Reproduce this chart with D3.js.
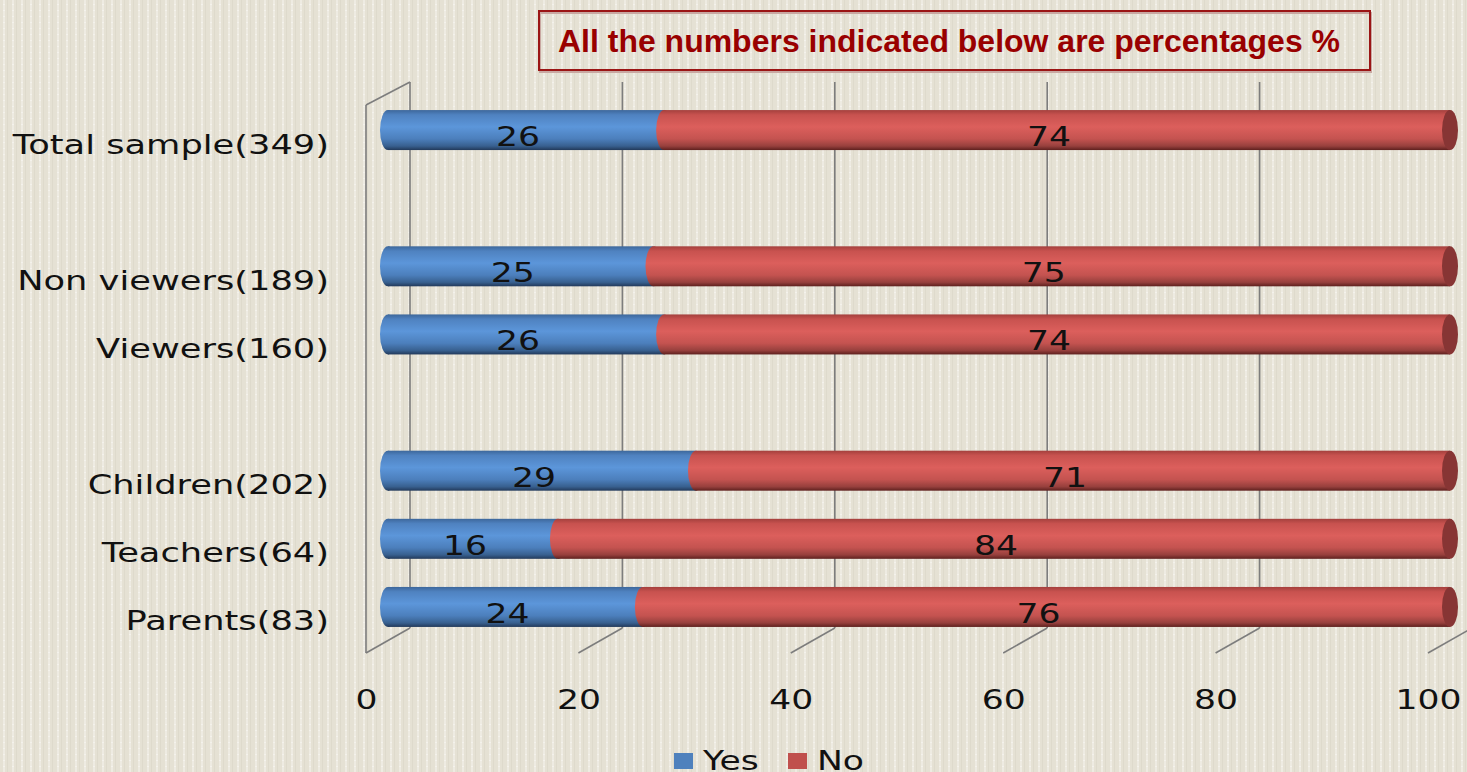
<!DOCTYPE html>
<html><head><meta charset="utf-8">
<script src="https://cdn.jsdelivr.net/npm/d3@7/dist/d3.min.js"></script>
<style>
html,body{margin:0;padding:0;background:#e6e2d6;overflow:hidden;}
svg{display:block;}
</style></head>
<body>
<svg id="chart" width="1467" height="772"></svg>
<script>
// ---- data ----
const categories = ["Total sample(349)", "", "Non viewers(189)", "Viewers(160)", " ", "Children(202)", "Teachers(64)", "Parents(83)"];
const yesValues = [26, null, 25, 26, null, 29, 16, 24];
const noValues  = [74, null, 75, 74, null, 71, 84, 76];
const xTicks = [0, 20, 40, 60, 80, 100];
const seriesNames = ["Yes", "No"];
const titleText = "All the numbers indicated below are percentages %";

const W = 1467, H = 772;
const svg = d3.select("#chart");
const STRETCH = 1.33;
const wideFont = "'DejaVu Sans', sans-serif";

// background texture
const defs = svg.append("defs");
const pat = defs.append("pattern").attr("id","tex").attr("width",9).attr("height",6).attr("patternUnits","userSpaceOnUse");
pat.append("rect").attr("width",9).attr("height",6).attr("fill","#e5e1d4");
pat.append("rect").attr("x",3).attr("width",2).attr("height",6).attr("fill","#eeebe2");
pat.append("rect").attr("x",3).attr("y",4).attr("width",2).attr("height",1).attr("fill","#f4f2ec");
pat.append("rect").attr("x",7).attr("width",1).attr("height",6).attr("fill","#dedacc");
svg.append("rect").attr("width",W).attr("height",H).attr("fill","url(#tex)");

function grad(id, stops){
  const g = defs.append("linearGradient").attr("id",id).attr("x1",0).attr("y1",0).attr("x2",0).attr("y2",1);
  stops.forEach(s=>g.append("stop").attr("offset",s[0]).attr("stop-color",s[1]));
}
grad("gBlue", [[0,"#3d679b"],[0.12,"#4f82c0"],[0.42,"#5c96da"],[0.72,"#4c7fbc"],[0.9,"#38608f"],[1,"#22395a"]]);
grad("gRed",  [[0,"#a4403d"],[0.12,"#c8524f"],[0.42,"#dc5f5c"],[0.72,"#c45350"],[0.9,"#97403d"],[1,"#5e201e"]]);

// scales
const x = d3.scaleLinear().domain([0,100]).range([388,1450]);
const y = d3.scalePoint().domain(categories).range([96,641]).padding(0.5);
const DX = 22, DYB = -12, DYF = 13;   // 3D depth offsets
const plotTop = 94, plotBot = 640;
const barH = 40, capR = 8;

// walls & gridlines
const gridC = "#7d7d7d";
const g3 = svg.append("g").attr("stroke",gridC).attr("stroke-width",1.6).attr("fill","none");
xTicks.forEach(t=>{
  const xb = x(t)+DX, xf = x(t)-DX;
  g3.append("line").attr("x1",xb).attr("x2",xb).attr("y1",plotTop+DYB).attr("y2",plotBot+DYB);
  g3.append("line").attr("x1",xb).attr("y1",plotBot+DYB).attr("x2",xf).attr("y2",plotBot+DYF);
});
// left side wall
g3.append("line").attr("x1",x(0)-DX).attr("x2",x(0)-DX).attr("y1",plotTop+DYF-2).attr("y2",plotBot+DYF);
g3.append("line").attr("x1",x(0)-DX).attr("y1",plotTop+DYF-2).attr("x2",x(0)+DX).attr("y2",plotTop+DYB);

// bars
const rows = categories.map((c,i)=>({c, yes:yesValues[i], no:noValues[i]})).filter(d=>d.yes!=null);
const bars = svg.append("g");
rows.forEach(d=>{
  const cy = y(d.c), x0 = x(0), x1 = x(d.yes), x2 = x(d.yes + d.no);
  const g = bars.append("g");
  // yes segment
  g.append("rect").attr("x",x0).attr("y",cy-barH/2).attr("width",x1-x0).attr("height",barH).attr("fill","url(#gBlue)");
  g.append("ellipse").attr("cx",x0).attr("cy",cy).attr("rx",capR).attr("ry",barH/2).attr("fill","url(#gBlue)");
  // no segment
  g.append("rect").attr("x",x1).attr("y",cy-barH/2).attr("width",x2-x1).attr("height",barH).attr("fill","url(#gRed)");
  g.append("ellipse").attr("cx",x1).attr("cy",cy).attr("rx",capR).attr("ry",barH/2).attr("fill","url(#gRed)");
  g.append("ellipse").attr("cx",x2).attr("cy",cy).attr("rx",capR).attr("ry",barH/2).attr("fill","#873534");
  // labels
  [[d.yes,(x0+x1)/2],[d.no,(x1+x2)/2]].forEach(([v,cx])=>{
    g.append("text").attr("transform",`translate(${cx-8},${cy+16}) scale(${STRETCH},1)`)
      .attr("text-anchor","middle").attr("font-family",wideFont).attr("font-size",26).attr("fill","#111").text(v);
  });
});

// category axis
const yAxis = svg.append("g").attr("transform",`translate(329,${DYF})`)
  .call(d3.axisLeft(y).tickSize(0).tickPadding(0));
yAxis.select(".domain").remove();
yAxis.selectAll("text").attr("x",0).attr("dy",null).attr("y",10)
  .attr("transform",`scale(${STRETCH},1)`).attr("font-family",wideFont).attr("font-size",26.5).attr("fill","#111");

// value axis (front)
const xf = d3.scaleLinear().domain([0,100]).range([x(0)-DX, x(100)-DX]);
const xAxis = svg.append("g").attr("transform",`translate(0,690)`)
  .call(d3.axisBottom(xf).tickValues(xTicks).tickSize(0).tickPadding(0));
xAxis.select(".domain").remove();
xAxis.selectAll("text").attr("dy",null).attr("y",19)
  .attr("transform",`scale(${STRETCH},1)`).attr("font-family",wideFont).attr("font-size",26).attr("fill","#111");

// title box
const tb = svg.append("g");
tb.append("rect").attr("x",540).attr("y",13).attr("width",831).attr("height",59).attr("fill","none").attr("stroke","#c9a8a2").attr("stroke-width",2);
tb.append("rect").attr("x",539).attr("y",11).attr("width",831).attr("height",59).attr("fill","none").attr("stroke","#9b1515").attr("stroke-width",2);
tb.append("text").attr("x",949).attr("y",52).attr("text-anchor","middle")
  .attr("font-family","'Liberation Sans', Arial, sans-serif").attr("font-weight","bold").attr("font-size",32)
  .attr("textLength",782).attr("lengthAdjust","spacingAndGlyphs")
  .attr("fill","#990000").text(titleText);

// legend
const legColors = ["#4f81bd","#c0504d"];
const leg = svg.append("g");
const legX = [674, 788];
seriesNames.forEach((n,i)=>{
  leg.append("rect").attr("x",legX[i]).attr("y",753).attr("width",19).attr("height",16).attr("fill",legColors[i]);
  leg.append("text").attr("transform",`translate(${legX[i]+29},770) scale(${STRETCH},1)`)
    .attr("font-family",wideFont).attr("font-size",26).attr("fill","#111").text(n);
});
</script>
</body></html>
